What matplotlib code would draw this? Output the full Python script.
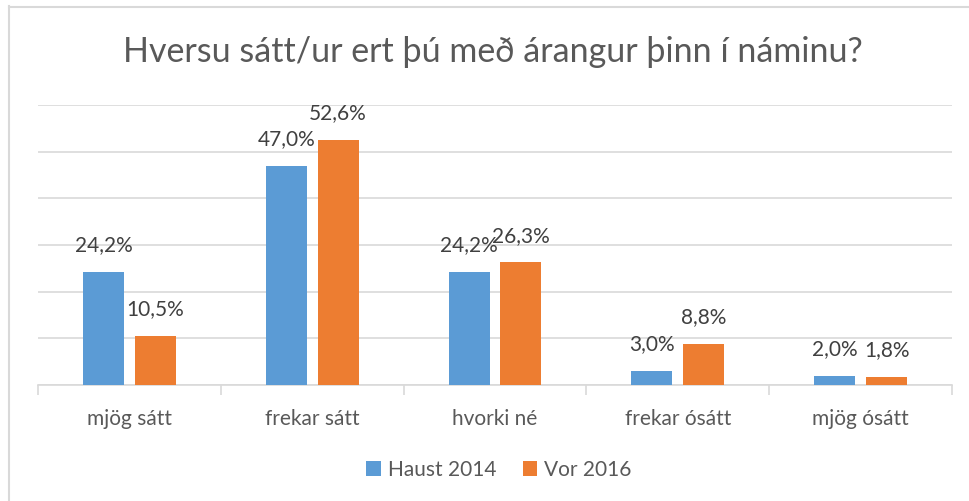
import numpy as np
import matplotlib
matplotlib.use('Agg')
import matplotlib.pyplot as plt
from matplotlib.lines import Line2D

plt.rcParams['font.family'] = ['Lato', 'DejaVu Sans']

# Gögn úr könnuninni (%)
flokkar = ['mjög sátt', 'frekar sátt', 'hvorki né', 'frekar ósátt', 'mjög ósátt']
haust_2014 = [24.2, 47.0, 24.2, 3.0, 2.0]
vor_2016 = [10.5, 52.6, 26.3, 8.8, 1.8]
raðir = ['Haust 2014', 'Vor 2016']
titill = 'Hversu sátt/ur ert þú með árangur þinn í náminu?'

blar = '#5B9BD5'
appelsinugulur = '#ED7D31'
grar_texti = '#595959'
linu_litur = '#D9D9D9'

W, H = 970, 501
fig = plt.figure(figsize=(W / 100, H / 100), dpi=100)
ax = fig.add_axes([38 / W, (H - 385) / H, (952 - 38) / W, (385 - 105) / H])

x = np.arange(len(flokkar))
breidd = 0.224
bil = 0.142
b1 = ax.bar(x - bil, haust_2014, breidd, color=blar, label=raðir[0], zorder=3)
b2 = ax.bar(x + bil, vor_2016, breidd, color=appelsinugulur, label=raðir[1], zorder=3)

for stolpar, gildi in [(b1, haust_2014), (b2, vor_2016)]:
    for s, v in zip(stolpar, gildi):
        ax.annotate(f'{v:.1f}%'.replace('.', ','),
                    (s.get_x() + s.get_width() / 2, v),
                    xytext=(0, 12), textcoords='offset points',
                    ha='center', va='bottom', fontsize=15, color='#404040')

ax.set_xlim(-0.5, len(flokkar) - 0.5)
ax.set_ylim(0, 60)
ax.set_yticks(np.arange(0, 61, 10))
ax.yaxis.grid(True, color=linu_litur, linewidth=1.2, zorder=0)
ax.tick_params(axis='y', left=False, labelleft=False)

ax.set_xticks(x)
ax.set_xticklabels(flokkar, fontsize=15, color=grar_texti)
ax.tick_params(axis='x', length=0, pad=17)
ax.set_xticks(np.arange(-0.5, len(flokkar)), minor=True)
ax.tick_params(axis='x', which='minor', length=7, color=linu_litur, width=1.2)

for hlid in ['top', 'right', 'left']:
    ax.spines[hlid].set_visible(False)
ax.spines['bottom'].set_color(linu_litur)
ax.spines['bottom'].set_linewidth(1.2)

fig.text(493 / W, 1 - 52 / H, titill, ha='center', va='center',
         fontsize=24.5, color=grar_texti)

fig.legend(loc='center', bbox_to_anchor=(499 / W, 1 - 470 / H), ncol=2,
           frameon=False, fontsize=15, handlelength=0.7, handleheight=0.7,
           handletextpad=0.35, columnspacing=1.25, labelcolor=grar_texti)

# rammi utan um myndina (hægri og neðri hlið utan myndar)
fig.add_artist(Line2D([9.5 / W, 9.5 / W], [0, 1 - 6 / H], color=linu_litur, linewidth=1.5))
fig.add_artist(Line2D([9 / W, 1], [1 - 6.5 / H, 1 - 6.5 / H], color=linu_litur, linewidth=1.5))

fig.savefig('out.png', dpi=100)
